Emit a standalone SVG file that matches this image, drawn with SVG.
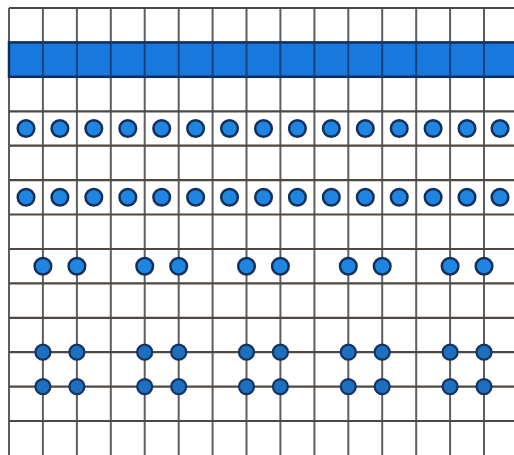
<svg xmlns="http://www.w3.org/2000/svg" width="514" height="455" viewBox="0 0 514 455">
<style>
.v{stroke:#5e5e5e;stroke-width:2}
.h{stroke:#4e4844;stroke-width:2.2}
.dot{fill:#1e86e2;stroke:#122f5c;stroke-width:2.5}
.dot2{fill:#1d6fc0;stroke:#14335f;stroke-width:2.2}
</style>
<rect width="514" height="455" fill="#ffffff"/>
<g id="grid">
<line class="v" x1="9" y1="8" x2="9" y2="455"/>
<line class="v" x1="42.9" y1="8" x2="42.9" y2="455"/>
<line class="v" x1="76.9" y1="8" x2="76.9" y2="455"/>
<line class="v" x1="110.8" y1="8" x2="110.8" y2="455"/>
<line class="v" x1="144.7" y1="8" x2="144.7" y2="455"/>
<line class="v" x1="178.7" y1="8" x2="178.7" y2="455"/>
<line class="v" x1="212.6" y1="8" x2="212.6" y2="455"/>
<line class="v" x1="246.5" y1="8" x2="246.5" y2="455"/>
<line class="v" x1="280.4" y1="8" x2="280.4" y2="455"/>
<line class="v" x1="314.4" y1="8" x2="314.4" y2="455"/>
<line class="v" x1="348.3" y1="8" x2="348.3" y2="455"/>
<line class="v" x1="382.2" y1="8" x2="382.2" y2="455"/>
<line class="v" x1="416.2" y1="8" x2="416.2" y2="455"/>
<line class="v" x1="450.1" y1="8" x2="450.1" y2="455"/>
<line class="v" x1="484" y1="8" x2="484" y2="455"/>
<line class="h" x1="9" y1="8" x2="514" y2="8"/>
<line class="h" x1="9" y1="111.3" x2="514" y2="111.3"/>
<line class="h" x1="9" y1="145.7" x2="514" y2="145.7"/>
<line class="h" x1="9" y1="180.1" x2="514" y2="180.1"/>
<line class="h" x1="9" y1="214.5" x2="514" y2="214.5"/>
<line class="h" x1="9" y1="249" x2="514" y2="249"/>
<line class="h" x1="9" y1="283.4" x2="514" y2="283.4"/>
<line class="h" x1="9" y1="317.8" x2="514" y2="317.8"/>
<line class="h" x1="9" y1="352.2" x2="514" y2="352.2"/>
<line class="h" x1="9" y1="386.6" x2="514" y2="386.6"/>
<line class="h" x1="9" y1="421" x2="514" y2="421"/>
</g>
<g id="band">
<rect x="9" y="42.4" width="507" height="34.4" fill="#1878dc" stroke="#0f2c5c" stroke-width="2.5"/>
<g stroke="#16407a" stroke-width="2">
<line x1="42.9" y1="42.4" x2="42.9" y2="76.8"/><line x1="76.9" y1="42.4" x2="76.9" y2="76.8"/><line x1="110.8" y1="42.4" x2="110.8" y2="76.8"/><line x1="144.7" y1="42.4" x2="144.7" y2="76.8"/><line x1="178.7" y1="42.4" x2="178.7" y2="76.8"/><line x1="212.6" y1="42.4" x2="212.6" y2="76.8"/><line x1="246.5" y1="42.4" x2="246.5" y2="76.8"/><line x1="280.4" y1="42.4" x2="280.4" y2="76.8"/><line x1="314.4" y1="42.4" x2="314.4" y2="76.8"/><line x1="348.3" y1="42.4" x2="348.3" y2="76.8"/><line x1="382.2" y1="42.4" x2="382.2" y2="76.8"/><line x1="416.2" y1="42.4" x2="416.2" y2="76.8"/><line x1="450.1" y1="42.4" x2="450.1" y2="76.8"/><line x1="484" y1="42.4" x2="484" y2="76.8"/>
</g>
</g>
<g id="row1">
<circle class="dot" cx="26" cy="128.5" r="8.3"/><circle class="dot" cx="59.9" cy="128.5" r="8.3"/><circle class="dot" cx="93.8" cy="128.5" r="8.3"/><circle class="dot" cx="127.8" cy="128.5" r="8.3"/><circle class="dot" cx="161.7" cy="128.5" r="8.3"/><circle class="dot" cx="195.6" cy="128.5" r="8.3"/><circle class="dot" cx="229.5" cy="128.5" r="8.3"/><circle class="dot" cx="263.5" cy="128.5" r="8.3"/><circle class="dot" cx="297.4" cy="128.5" r="8.3"/><circle class="dot" cx="331.3" cy="128.5" r="8.3"/><circle class="dot" cx="365.3" cy="128.5" r="8.3"/><circle class="dot" cx="399.2" cy="128.5" r="8.3"/><circle class="dot" cx="433.1" cy="128.5" r="8.3"/><circle class="dot" cx="467" cy="128.5" r="8.3"/><circle class="dot" cx="500" cy="128.5" r="8.3"/>
</g>
<g id="row2">
<circle class="dot" cx="26" cy="197.3" r="8.3"/><circle class="dot" cx="59.9" cy="197.3" r="8.3"/><circle class="dot" cx="93.8" cy="197.3" r="8.3"/><circle class="dot" cx="127.8" cy="197.3" r="8.3"/><circle class="dot" cx="161.7" cy="197.3" r="8.3"/><circle class="dot" cx="195.6" cy="197.3" r="8.3"/><circle class="dot" cx="229.5" cy="197.3" r="8.3"/><circle class="dot" cx="263.5" cy="197.3" r="8.3"/><circle class="dot" cx="297.4" cy="197.3" r="8.3"/><circle class="dot" cx="331.3" cy="197.3" r="8.3"/><circle class="dot" cx="365.3" cy="197.3" r="8.3"/><circle class="dot" cx="399.2" cy="197.3" r="8.3"/><circle class="dot" cx="433.1" cy="197.3" r="8.3"/><circle class="dot" cx="467" cy="197.3" r="8.3"/><circle class="dot" cx="500" cy="197.3" r="8.3"/>
</g>
<g id="row3">
<circle class="dot" cx="42.9" cy="266.2" r="8.3"/><circle class="dot" cx="76.9" cy="266.2" r="8.3"/>
<circle class="dot" cx="144.7" cy="266.2" r="8.3"/><circle class="dot" cx="178.7" cy="266.2" r="8.3"/>
<circle class="dot" cx="246.5" cy="266.2" r="8.3"/><circle class="dot" cx="280.4" cy="266.2" r="8.3"/>
<circle class="dot" cx="348.3" cy="266.2" r="8.3"/><circle class="dot" cx="382.2" cy="266.2" r="8.3"/>
<circle class="dot" cx="450.1" cy="266.2" r="8.3"/><circle class="dot" cx="484" cy="266.2" r="8.3"/>
</g>
<g id="row4">
<circle class="dot2" cx="42.9" cy="352.2" r="7.5"/><circle class="dot2" cx="76.9" cy="352.2" r="7.5"/>
<circle class="dot2" cx="144.7" cy="352.2" r="7.5"/><circle class="dot2" cx="178.7" cy="352.2" r="7.5"/>
<circle class="dot2" cx="246.5" cy="352.2" r="7.5"/><circle class="dot2" cx="280.4" cy="352.2" r="7.5"/>
<circle class="dot2" cx="348.3" cy="352.2" r="7.5"/><circle class="dot2" cx="382.2" cy="352.2" r="7.5"/>
<circle class="dot2" cx="450.1" cy="352.2" r="7.5"/><circle class="dot2" cx="484" cy="352.2" r="7.5"/>
<circle class="dot2" cx="42.9" cy="386.6" r="7.5"/><circle class="dot2" cx="76.9" cy="386.6" r="7.5"/>
<circle class="dot2" cx="144.7" cy="386.6" r="7.5"/><circle class="dot2" cx="178.7" cy="386.6" r="7.5"/>
<circle class="dot2" cx="246.5" cy="386.6" r="7.5"/><circle class="dot2" cx="280.4" cy="386.6" r="7.5"/>
<circle class="dot2" cx="348.3" cy="386.6" r="7.5"/><circle class="dot2" cx="382.2" cy="386.6" r="7.5"/>
<circle class="dot2" cx="450.1" cy="386.6" r="7.5"/><circle class="dot2" cx="484" cy="386.6" r="7.5"/>
</g>
</svg>
